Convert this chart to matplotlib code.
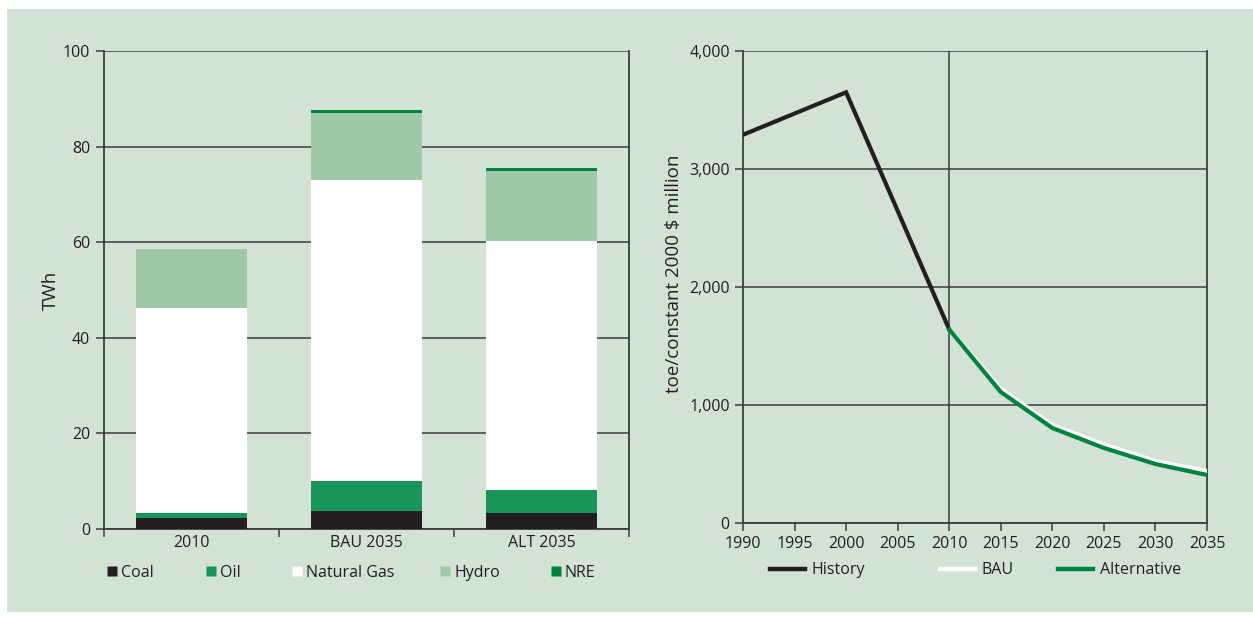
import numpy as np
import matplotlib.pyplot as plt
from matplotlib.lines import Line2D
from matplotlib.legend import Legend
from matplotlib.patches import Rectangle

plt.rcParams['font.family'] = ['Open Sans', 'DejaVu Sans']

# left chart data (TWh)
scenarios = ['2010', 'BAU 2035', 'ALT 2035']
coal = [2.3, 3.8, 3.4]
oil = [1.0, 6.2, 4.8]
gas = [42.9, 63.0, 52.0]
hydro = [12.4, 14.0, 14.7]
nre = [0.0, 0.6, 0.6]

# right chart data (toe/constant 2000 $ million)
hist_years = [1990, 2000, 2010]
history = [3290, 3650, 1640]
proj_years = [2010, 2015, 2020, 2025, 2030, 2035]
bau = [1640, 1140, 830, 665, 525, 440]
alternative = [1640, 1110, 805, 636, 500, 407]

bg = '#d2e3d6'
txt = '#231f20'
gridc = '#3c3c3c'
colors = {'Coal': '#231f20', 'Oil': '#1a955a', 'Natural Gas': '#ffffff',
          'Hydro': '#9fc8a8', 'NRE': '#00843d'}

fig = plt.figure(figsize=(12.53, 6.17), dpi=100)
fig.patch.set_facecolor('white')
fig.patches.append(Rectangle((7 / 1253, 5 / 617), 1246 / 1253, 603 / 617,
                             transform=fig.transFigure, facecolor=bg,
                             edgecolor='none', zorder=-10))

# ---------- left: stacked bars ----------
ax1 = fig.add_axes([104 / 1253, 1 - 529 / 617, 525 / 1253, 478 / 617])
ax1.set_facecolor(bg)
x = np.arange(len(scenarios))
bottom = np.zeros(len(scenarios))
for name, vals in [('Coal', coal), ('Oil', oil), ('Natural Gas', gas),
                   ('Hydro', hydro), ('NRE', nre)]:
    ax1.bar(x, vals, bottom=bottom, width=0.63, color=colors[name], zorder=3)
    bottom += np.array(vals)

ax1.set_xlim(-0.5, 2.5)
ax1.set_ylim(0, 100)
ax1.set_yticks([0, 20, 40, 60, 80, 100])
ax1.yaxis.grid(True, color=gridc, linewidth=1.1, zorder=0)
ax1.set_axisbelow(True)
ax1.set_xticks([-0.5, 0.5, 1.5, 2.5])
ax1.set_xticklabels([])
ax1.set_xticks(x, minor=True)
ax1.set_xticklabels(scenarios, minor=True)
ax1.tick_params(axis='x', which='minor', length=0, pad=4)
ax1.tick_params(axis='x', which='major', length=6, width=1.1, color=gridc)
ax1.tick_params(axis='y', length=6, width=1.1, color=gridc, pad=4)
ax1.tick_params(which='both', labelsize=11.5, labelcolor=txt)
ax1.spines['top'].set_visible(False)
for s in ['left', 'bottom', 'right']:
    ax1.spines[s].set_color(gridc)
    ax1.spines[s].set_linewidth(1.3)
ax1.set_ylabel('TWh', fontsize=13.5, color=txt)
ax1.yaxis.set_label_coords(-0.085, 0.5)

# legend items placed one by one, as in the original layout
left_pos = [0.015, 0.204, 0.368, 0.650, 0.861]
for name, xp in zip(colors, left_pos):
    h = Line2D([], [], linestyle='none', marker='s', markersize=7,
               markerfacecolor=colors[name], markeredgecolor='none')
    leg = Legend(ax1, [h], [name], loc='center left',
                 bbox_to_anchor=(xp - 0.012, -0.092), frameon=False,
                 fontsize=11.5, handletextpad=0.15, handlelength=0.8,
                 labelcolor=txt, borderaxespad=0, borderpad=0)
    ax1.add_artist(leg)

# ---------- right: intensity lines ----------
ax2 = fig.add_axes([743 / 1253, 1 - 523 / 617, 464 / 1253, 472 / 617])
ax2.set_facecolor(bg)
ax2.plot(hist_years, history, color='#231f20', linewidth=3, zorder=4,
         solid_joinstyle='miter')
ax2.plot(proj_years, bau, color='white', linewidth=3, zorder=3)
ax2.plot(proj_years, alternative, color='#00843d', linewidth=3, zorder=4)
ax2.set_xlim(1990, 2035)
ax2.set_ylim(0, 4000)
ax2.set_xticks(range(1990, 2036, 5))
ax2.set_yticks(range(0, 4001, 1000))
ax2.set_yticklabels(['0', '1,000', '2,000', '3,000', '4,000'])
ax2.yaxis.grid(True, color=gridc, linewidth=1.1, zorder=0)
ax2.axvline(2010, color=gridc, linewidth=1.1, zorder=1)
ax2.set_axisbelow(True)
ax2.tick_params(length=6, width=1.1, color=gridc, labelsize=11.5,
                labelcolor=txt)
ax2.spines['top'].set_visible(False)
for s in ['left', 'bottom', 'right']:
    ax2.spines[s].set_color(gridc)
    ax2.spines[s].set_linewidth(1.3)
ax2.set_ylabel('toe/constant 2000 $ million', fontsize=13.5, color=txt)
ax2.yaxis.set_label_coords(-0.13, 0.527)

line_names = ['History', 'BAU', 'Alternative']
line_colors = ['#231f20', 'white', '#00843d']
right_pos = [0.058, 0.425, 0.679]
for name, c, xp in zip(line_names, line_colors, right_pos):
    h = Line2D([], [], color=c, linewidth=3.2)
    leg = Legend(ax2, [h], [name], loc='center left',
                 bbox_to_anchor=(xp, -0.1), frameon=False,
                 fontsize=11.5, handlelength=2.2, handletextpad=0.4,
                 labelcolor=txt, borderaxespad=0, borderpad=0)
    ax2.add_artist(leg)

plt.savefig('out.png', dpi=100, facecolor=fig.get_facecolor())
